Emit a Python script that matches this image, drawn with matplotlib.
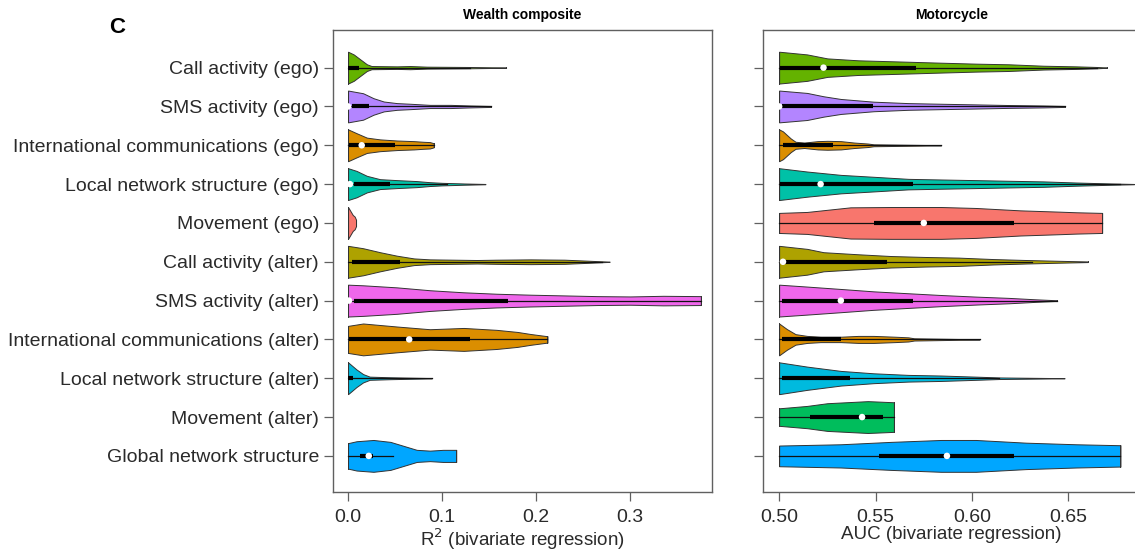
import matplotlib
matplotlib.use('Agg')
import matplotlib.pyplot as plt

plt.rcParams['font.family'] = ['Liberation Sans', 'DejaVu Sans']

# feature groups, top to bottom
features = ['Call activity (ego)', 'SMS activity (ego)', 'International communications (ego)',
            'Local network structure (ego)', 'Movement (ego)', 'Call activity (alter)',
            'SMS activity (alter)', 'International communications (alter)',
            'Local network structure (alter)', 'Movement (alter)', 'Global network structure']
colors = ['#64B200', '#B385FF', '#DB8E00', '#00C1A7', '#F8766D', '#AEA200',
          '#EF67EB', '#DB8E00', '#00BADE', '#00BD5C', '#00A6FF']

# Wealth composite: violin outline (value, relative half width)
wealth_x = [
    [0, 0.006, 0.013, 0.02, 0.025, 0.052, 0.066, 0.084, 0.13, 0.168],
    [0, 0.016, 0.027, 0.038, 0.052, 0.066, 0.087, 0.109, 0.13, 0.152],
    [0, 0.009, 0.02, 0.034, 0.052, 0.07, 0.08, 0.087, 0.091],
    [0, 0.009, 0.02, 0.034, 0.052, 0.073, 0.087, 0.1, 0.123, 0.146],
    [0, 0.003, 0.005, 0.007, 0.0085],
    [0, 0.016, 0.034, 0.052, 0.07, 0.087, 0.137, 0.158, 0.194, 0.23, 0.25, 0.265, 0.278],
    [0, 0.016, 0.052, 0.087, 0.123, 0.158, 0.194, 0.265, 0.3, 0.335, 0.375],
    [0, 0.016, 0.052, 0.087, 0.123, 0.158, 0.18, 0.194, 0.212],
    [0, 0.009, 0.016, 0.023, 0.045, 0.07, 0.089],
    None,
    [0, 0.009, 0.027, 0.045, 0.059, 0.073, 0.087, 0.101, 0.115],
]
wealth_w = [
    [1.0, 0.83, 0.52, 0.21, 0.1, 0.08, 0.1, 0.06, 0.04, 0.01],
    [1.0, 0.83, 0.52, 0.31, 0.21, 0.17, 0.1, 0.1, 0.06, 0.03],
    [1.0, 0.76, 0.48, 0.37, 0.3, 0.26, 0.22, 0.2, 0.13],
    [1.0, 0.83, 0.52, 0.31, 0.25, 0.19, 0.12, 0.08, 0.04, 0.01],
    [1.0, 0.7, 0.5, 0.4, 0.2],
    [1.0, 0.85, 0.6, 0.38, 0.21, 0.15, 0.11, 0.13, 0.15, 0.13, 0.08, 0.04, 0.01],
    [1.0, 0.96, 0.83, 0.65, 0.52, 0.43, 0.37, 0.28, 0.26, 0.3, 0.28],
    [0.85, 1.0, 0.81, 0.64, 0.72, 0.6, 0.47, 0.34, 0.2],
    [1.0, 0.55, 0.26, 0.1, 0.06, 0.03, 0.01],
    None,
    [0.8, 0.92, 1.0, 0.88, 0.63, 0.38, 0.33, 0.38, 0.38],
]
wealth_q1 = [0.0, 0.004, 0.001, 0.006, None, 0.004, 0.006, 0.0014, 0.0, None, 0.013]
wealth_med = [-0.004, 0.0, 0.0145, 0.002, None, -0.004, 0.001, 0.065, -0.004, None, 0.022]
wealth_q3 = [0.012, 0.022, 0.05, 0.045, None, 0.055, 0.17, 0.13, 0.005, None, 0.026]
wealth_lo = [0, 0, 0, 0, None, 0, 0, 0, 0, None, 0]
wealth_hi = [0.13, 0.152, 0.091, 0.105, None, 0.27, 0.375, 0.212, 0.089, None, 0.048]

# Motorcycle: AUC violins
moto_x = [
    [0.5, 0.5145, 0.525, 0.541, 0.567, 0.584, 0.602, 0.619, 0.637, 0.654, 0.665, 0.67],
    [0.5, 0.5145, 0.523, 0.532, 0.549, 0.567, 0.584, 0.602, 0.619, 0.637, 0.648],
    [0.5, 0.502, 0.506, 0.5085, 0.513, 0.52, 0.525, 0.532, 0.539, 0.546, 0.549, 0.584],
    [0.5, 0.5145, 0.532, 0.549, 0.567, 0.584, 0.602, 0.619, 0.637, 0.654, 0.672, 0.684],
    [0.5, 0.5145, 0.537, 0.558, 0.584, 0.602, 0.625, 0.645, 0.654, 0.6675],
    [0.5, 0.5145, 0.523, 0.541, 0.558, 0.576, 0.593, 0.611, 0.628, 0.645, 0.66],
    [0.5, 0.5145, 0.532, 0.549, 0.567, 0.584, 0.602, 0.619, 0.633, 0.644],
    [0.5, 0.504, 0.5085, 0.5145, 0.5215, 0.532, 0.541, 0.549, 0.56, 0.567, 0.57, 0.604],
    [0.5, 0.5145, 0.532, 0.549, 0.567, 0.584, 0.602, 0.614, 0.648],
    [0.5, 0.5145, 0.525, 0.546, 0.55, 0.5595],
    [0.5, 0.532, 0.558, 0.584, 0.602, 0.628, 0.654, 0.677],
]
moto_w = [
    [1.0, 0.83, 0.58, 0.46, 0.37, 0.31, 0.25, 0.21, 0.12, 0.08, 0.04, 0.01],
    [1.0, 0.85, 0.64, 0.47, 0.3, 0.21, 0.17, 0.13, 0.09, 0.06, 0.03],
    [1.0, 0.87, 0.43, 0.22, 0.17, 0.26, 0.28, 0.26, 0.17, 0.11, 0.06, 0.005],
    [1.0, 0.79, 0.58, 0.46, 0.33, 0.29, 0.25, 0.21, 0.17, 0.1, 0.04, 0.01],
    [0.63, 0.69, 0.98, 1.0, 1.0, 0.94, 0.79, 0.71, 0.67, 0.63],
    [1.0, 0.81, 0.6, 0.47, 0.36, 0.3, 0.26, 0.17, 0.11, 0.06, 0.02],
    [1.0, 0.88, 0.73, 0.58, 0.46, 0.35, 0.25, 0.17, 0.08, 0.02],
    [1.0, 0.65, 0.33, 0.22, 0.17, 0.17, 0.22, 0.22, 0.17, 0.13, 0.07, 0.005],
    [1.0, 0.73, 0.46, 0.31, 0.21, 0.17, 0.1, 0.05, 0.005],
    [0.55, 0.7, 0.87, 1.0, 0.98, 0.93],
    [0.65, 0.73, 0.88, 1.0, 1.0, 0.83, 0.73, 0.67],
]
moto_q1 = [0.5005, 0.5014, 0.502, 0.5005, 0.549, 0.502, 0.5014, 0.5014, 0.5014, 0.516, 0.552]
moto_med = [0.523, 0.5, 0.498, 0.5215, 0.575, 0.502, 0.532, 0.498, 0.498, 0.543, 0.587]
moto_q3 = [0.571, 0.5485, 0.528, 0.5695, 0.622, 0.556, 0.5695, 0.532, 0.537, 0.554, 0.622]
moto_lo = [0.5] * 11
moto_hi = [0.665, 0.648, 0.584, 0.677, 0.6675, 0.631, 0.644, 0.604, 0.614, 0.5595, 0.677]

HALF = 0.41  # max half width of a violin, in row units
EDGE = '#333333'


def draw_panel(ax, xs, ws, q1, med, q3, lo, hi):
    for i in range(len(features)):
        if xs[i] is None:
            continue
        row = i + 1
        w = [HALF * v for v in ws[i]]
        ax.fill_between(xs[i], [row - v for v in w], [row + v for v in w],
                        facecolor=colors[i], edgecolor=EDGE, lw=0.7, zorder=2)
        ax.plot([xs[i][0], xs[i][0]], [row - w[0], row + w[0]], color=EDGE, lw=0.7, zorder=2)
        ax.plot([xs[i][-1], xs[i][-1]], [row - w[-1], row + w[-1]], color=EDGE, lw=0.7, zorder=2)
        ax.plot([lo[i], hi[i]], [row, row], color='#111111', lw=0.9, zorder=3)
        ax.plot([q1[i], q3[i]], [row, row], color='black', lw=3.0, solid_capstyle='butt', zorder=4)
        ax.scatter([med[i]], [row], s=22, color='white', edgecolors='none', zorder=5)
    ax.set_ylim(11.93, 0.03)
    ax.set_yticks(range(1, len(features) + 1))
    for s in ax.spines.values():
        s.set_color('#606060')
        s.set_linewidth(1.0)
    ax.tick_params(axis='both', colors='#606060', labelcolor='#2a2a2a', labelsize=14,
                   length=6.5, width=0.9)
    ax.tick_params(axis='x', pad=6)


fig = plt.figure(figsize=(11.35, 5.52), dpi=100)
ax1 = fig.add_axes([0.2934, 0.1087, 0.334, 0.837])
ax2 = fig.add_axes([0.6722, 0.1087, 0.332, 0.837])

draw_panel(ax1, wealth_x, wealth_w, wealth_q1, wealth_med, wealth_q3, wealth_lo, wealth_hi)
ax1.set_xlim(-0.016, 0.387)
ax1.set_xticks([0.0, 0.1, 0.2, 0.3])
ax1.set_xticklabels(['0.0', '0.1', '0.2', '0.3'])
ax1.set_yticklabels(features)
ax1.set_xlabel(r'R$^2$ (bivariate regression)', fontsize=13.5, color='#2a2a2a', labelpad=0)
ax1.set_title('Wealth composite', fontsize=10, fontweight='bold', pad=8)

draw_panel(ax2, moto_x, moto_w, moto_q1, moto_med, moto_q3, moto_lo, moto_hi)
ax2.set_xlim(0.4916, 0.687)
ax2.set_xticks([0.50, 0.55, 0.60, 0.65])
ax2.set_xticklabels(['0.50', '0.55', '0.60', '0.65'])
ax2.set_yticklabels([])
ax2.set_xlabel('AUC (bivariate regression)', fontsize=13.5, color='#2a2a2a', labelpad=0)
ax2.set_title('Motorcycle', fontsize=10, fontweight='bold', pad=8)

fig.text(0.103, 0.95, 'C', fontsize=16, fontweight='bold', ha='center', va='center')

fig.savefig('out.png', dpi=100)
